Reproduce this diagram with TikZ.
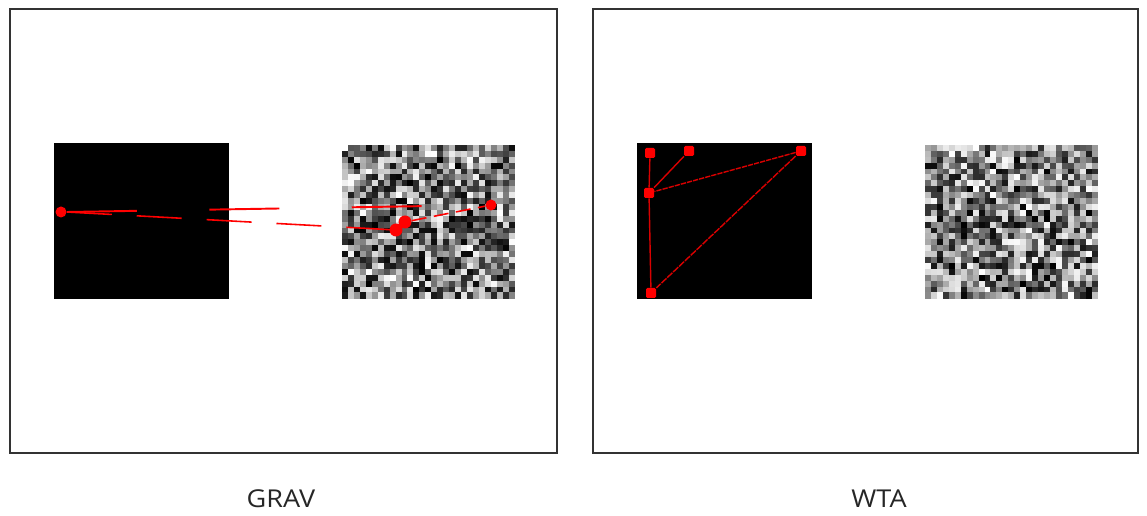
\documentclass[tikz,border=0pt]{standalone}
\usepackage{fontspec}
\setmainfont{Open Sans}
\usetikzlibrary{calc}

\tikzset{
	frame/.style={draw=black!80, line width=0.8pt},
	panel/.style={fill=black, inner sep=0pt, minimum width=3.5cm, minimum height=3.12cm},
	dot/.style={circle, fill=red, inner sep=0pt, minimum size=0.22cm},
	sq/.style={rectangle, rounded corners=0.8pt, fill=red, inner sep=0pt, minimum size=0.2cm},
	link/.style={red, line width=1.1pt},
	wlink/.style={red!85!black, line width=0.8pt},
	caption/.style={font=\fontsize{14}{16}\selectfont, text=black!85, xscale=1.1},
}

% noise patch: #1,#2 = top left corner (px)
\newcommand{\noisepatch}[2]{%
	\foreach \i in {0,...,28}
		\foreach \j in {0,...,25} {
			\pgfmathsetmacro{\g}{int(random(0,100))}
			\fill[black!\g!white] ({#1+\i*5.95},{#2+\j*5.9}) rectangle ++(6.05,6.05);
		}
}

\begin{document}
\begin{tikzpicture}[x=0.02cm, y=-0.02cm]
\useasboundingbox (0,0) rectangle (1147,516);
\pgfmathsetseed{4242}

\draw[frame] (10,9) rectangle (557,453);
\draw[frame] (593,9) rectangle (1138,453);

%% GRAV
\node[panel] (gblack) at (141.5,221) {};
\noisepatch{342}{145}

\node[dot] (g0) at (61,212) {};
\node[dot] (g1) at (491,205) {};
\node[dot, minimum size=0.26cm] (g2) at (396,230) {};
\node[dot, minimum size=0.26cm] (g3) at (405,222) {};

\draw[link, dash pattern=on 1.4cm off 1.45cm] (g0.east) -- (g1.center);
\draw[link, line width=0.9pt, dash pattern=on 0.9cm off 0.5cm] (g0.east) -- (g2.center);
\draw[link, line width=0.9pt, dash pattern=on 0.3cm off 0.15cm] (g3) -- (g1);
\draw[link] (g2) -- (g3);

\node[caption] (grav) at (281,499) {GRAV};

%% WTA
\node[panel] (wblack) at (724.5,221) {};
\noisepatch{925}{145}

\node[sq] (w0) at (650,153) {};
\node[sq] (w1) at (689,151) {};
\node[sq] (w2) at (801,151) {};
\node[sq] (w3) at (649,193) {};
\node[sq] (w4) at (651,293) {};

\draw[wlink] (w0) -- (w3);
\draw[wlink] (w1) -- (w3);
\draw[wlink, dash pattern=on 3pt off 0.6pt] (w2) -- (w3);
\draw[wlink, dash pattern=on 4pt off 0.6pt] (w2) -- (w4);
\draw[wlink] (w3) -- (w4);

\node[caption] (wta) at (879,499) {WTA};

\end{tikzpicture}
\end{document}
